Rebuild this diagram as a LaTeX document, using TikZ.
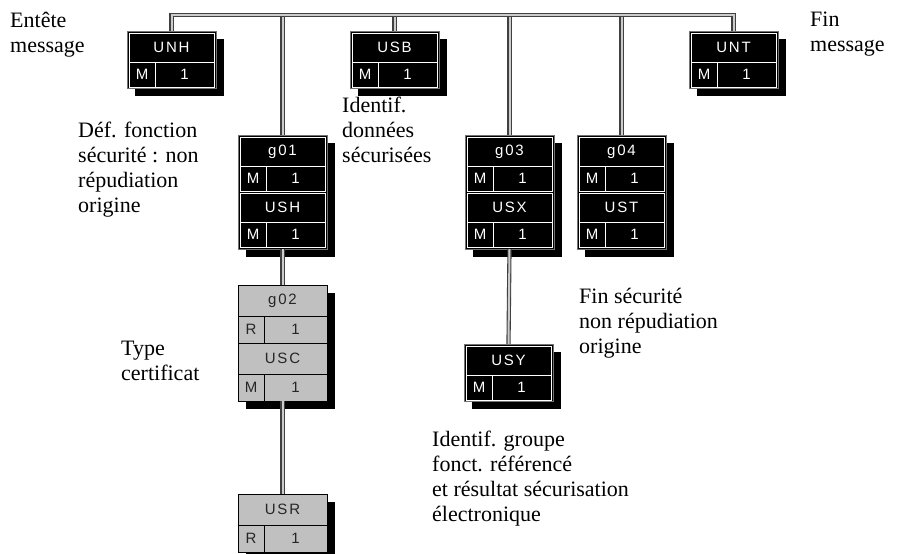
\documentclass[tikz,border=0pt]{standalone}
\usepackage{fontspec}
\setmainfont{Liberation Serif}
\newfontfamily\boxfont[LetterSpace=12]{Liberation Sans}
\usetikzlibrary{positioning,shadows}
\definecolor{boxgrey}{RGB}{192,192,192}
% geometry of the segment boxes (in px)
\def\segin{2}
\def\headh{29}
\def\rowh{25}
\def\stw{26}
\tikzset{
	labeltext/.style = {anchor=north west, inner sep=0pt, align=left,
		font=\fontsize{22}{25}\selectfont},
	link/.style      = {draw=black!75, line width=1.1pt,
		double=black!20, double distance=2pt},
	segframe/.style  = {anchor=north west, inner sep=0pt, outer sep=0pt,
		minimum width=89pt, draw=black!55, fill=black, line width=0.8pt,
		drop shadow={shadow xshift=8pt, shadow yshift=-8pt,
			fill=black, opacity=1}},
	cellcol/.style   = {draw=white, fill=black, text=white},
	segcell/.style   = {cellcol, anchor=north west, inner sep=0pt,
		outer sep=0pt, line width=0.8pt,
		font=\boxfont\fontsize{15}{15}\selectfont},
	seghead/.style   = {segcell, minimum width={(89-2*\segin)*1pt},
		minimum height={\headh*1pt}},
	segst/.style     = {segcell, minimum width={\stw*1pt},
		minimum height={\rowh*1pt}},
	segrep/.style    = {segcell, minimum width={(89-2*\segin-\stw)*1pt},
		minimum height={\rowh*1pt}}
}
% one segment: tag row, then status and repetition
\newcommand\segment[4]{%
	\node[seghead] (#1) at (#2) {#3};
	\node[segst] (#1-st) at (#1.south west) {#4};
	\node[segrep] (#1-rep) at (#1-st.north east) {1};
}

\begin{document}
\begin{tikzpicture}[x=1pt,y=-1pt]
	\useasboundingbox (0,0) rectangle (903,554);

	% dark boxes
	\node[segframe, minimum height=57pt] (unh) at (127,31) {};
	\segment{unh-s}{[shift={(\segin,\segin)}]unh.north west}{UNH}{M}
	\node[segframe, minimum height=57pt] (usb) at (350,31) {};
	\segment{usb-s}{[shift={(\segin,\segin)}]usb.north west}{USB}{M}
	\node[segframe, minimum height=57pt] (unt) at (689,31) {};
	\segment{unt-s}{[shift={(\segin,\segin)}]unt.north west}{UNT}{M}

	\node[segframe, minimum height=114pt] (grp1) at (238,135) {};
	\segment{g01}{[shift={(\segin,\segin)}]grp1.north west}{g01}{M}
	\segment{ush}{[shift={(0,\segin)}]g01-st.south west}{USH}{M}

	\node[segframe, minimum height=114pt] (grp3) at (465,135) {};
	\segment{g03}{[shift={(\segin,\segin)}]grp3.north west}{g03}{M}
	\segment{usx}{[shift={(0,\segin)}]g03-st.south west}{USX}{M}

	\node[segframe, minimum height=114pt] (grp4) at (577,135) {};
	\segment{g04}{[shift={(\segin,\segin)}]grp4.north west}{g04}{M}
	\segment{ust}{[shift={(0,\segin)}]g04-st.south west}{UST}{M}

	\node[segframe, minimum height=57pt] (usy) at (464,344) {};
	\segment{usy-s}{[shift={(\segin,\segin)}]usy.north west}{USY}{M}

	% grey boxes
	\begin{scope}[segframe/.append style={draw=black, fill=boxgrey},
		cellcol/.style={draw=black, fill=boxgrey, text=black!85}]
		\def\segin{0}\def\headh{31}\def\rowh{27}
		\node[segframe, minimum height=116pt] (grp2) at (238,285) {};
		\segment{g02}{grp2.north west}{g02}{R}
		\segment{usc}{g02-st.south west}{USC}{M}

		\node[segframe, minimum height=58pt] (usr) at (238,494) {};
		\segment{usr-s}{usr.north west}{USR}{R}
	\end{scope}

	% connectors
	\coordinate (bus) at (0,15);
	\draw[link] (usb.north |- bus) -- (usb.north);
	\draw[link] (grp1.north |- bus) -- (grp1.north);
	\draw[link] (grp3.north |- bus) -- (grp3.north);
	\draw[link] (grp4.north |- bus) -- (grp4.north);
	\draw[link] (unh.north) -- (unh.north |- bus) -- (unt.north |- bus) -- (unt.north);
	\draw[link] (grp1.south) -- (grp2.north);
	\draw[link] (grp2.south) -- (usr.north);
	\draw[link] (grp3.south) -- (usy.north);

	% texts
	\node[labeltext] (t-unh) at (10,12) {Entête\\message};
	\node[labeltext] (t-unt) at (810,12) {Fin\\message};
	\node[labeltext] (t-grp1) at (78,122) {Déf. fonction\\sécurité : non\\répudiation\\origine};
	\node[labeltext] (t-usb) at (342,97) {Identif.\\données\\sécurisées};
	\node[labeltext] (t-grp2) at (121,341) {Type\\certificat};
	\node[labeltext] (t-grp4) at (579,288) {Fin sécurité\\non répudiation\\origine};
	\node[labeltext] (t-usy) at (432,431) {Identif. groupe\\fonct. référencé\\et résultat sécurisation\\électronique};
\end{tikzpicture}
\end{document}
